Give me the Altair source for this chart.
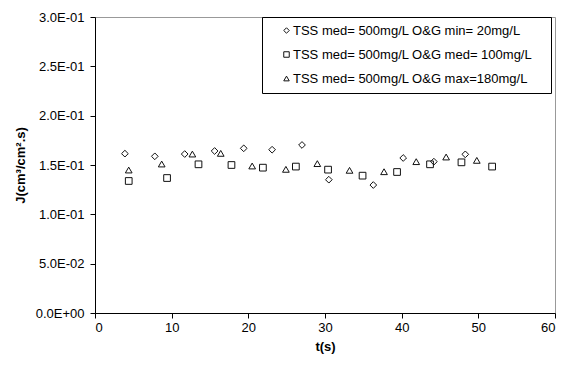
import json
import altair as alt
import pandas as pd

series_names = [
    "TSS med= 500mg/L O&G min= 20mg/L",
    "TSS med= 500mg/L O&G med= 100mg/L",
    "TSS med= 500mg/L O&G max=180mg/L",
]

t_min = [3.9, 7.8, 11.7, 15.6, 19.4, 23.1, 27.0, 30.5, 36.3, 40.2, 44.2, 48.3]
J_min = [0.1615, 0.1588, 0.1611, 0.1642, 0.1669, 0.1655, 0.1703, 0.1351, 0.1297, 0.1571, 0.1534, 0.1608]

t_med = [4.4, 9.4, 13.5, 17.8, 21.9, 26.2, 30.4, 34.9, 39.4, 43.7, 47.8, 51.8]
J_med = [0.1338, 0.1368, 0.1507, 0.1500, 0.1473, 0.1484, 0.1453, 0.1392, 0.1429, 0.1507, 0.1527, 0.1484]

t_max = [4.4, 8.7, 12.7, 16.4, 20.5, 24.9, 29.0, 33.2, 37.7, 41.9, 45.8, 49.8]
J_max = [0.1449, 0.1510, 0.1611, 0.1618, 0.1490, 0.1456, 0.1514, 0.1446, 0.1432, 0.1534, 0.1581, 0.1547]

x_ticks = [0, 10, 20, 30, 40, 50, 60]
y_ticks = [0, 0.05, 0.1, 0.15, 0.2, 0.25, 0.3]
y_tick_labels = ["0.0E+00", "5.0E-02", "1.0E-01", "1.5E-01", "2.0E-01", "2.5E-01", "3.0E-01"]

rows = []
for name, ts, js in zip(series_names, [t_min, t_med, t_max], [J_min, J_med, J_max]):
    for t, j in zip(ts, js):
        rows.append({"series": name, "t": t, "J": j})
df = pd.DataFrame(rows)

FONT = "Liberation Sans"
label_expr = json.dumps(y_tick_labels) + "[round(datum.value*20)]"

chart = alt.Chart(df).mark_point(
    filled=False, size=45, strokeWidth=1, color="#111", opacity=1
).encode(
    x=alt.X("t:Q", scale=alt.Scale(domain=[0, 60], nice=False),
            axis=alt.Axis(values=x_ticks, title="t(s)", grid=False,
                          labelPadding=3, titlePadding=6)),
    y=alt.Y("J:Q", scale=alt.Scale(domain=[0, 0.3], nice=False),
            axis=alt.Axis(values=y_ticks, labelExpr=label_expr,
                          title="J(cm³/cm².s)", grid=False)),
    shape=alt.Shape(
        "series:N",
        scale=alt.Scale(domain=series_names,
                        range=["diamond", "square", "triangle-up"]),
        legend=alt.Legend(
            title="\u00a0", titleOrient="right", titlePadding=12,
            titleFontSize=13,
            orient="none", legendX=167, legendY=0,
            strokeColor="black", padding=7, rowPadding=10,
            symbolOffset=11, symbolSize=30, symbolStrokeColor="#111",
            symbolStrokeWidth=1, symbolFillColor="transparent",
            labelFont=FONT, labelFontSize=13, labelColor="#000",
            labelOffset=0, labelLimit=0,
        ),
    ),
).properties(
    width=460, height=296,
    background="white",
    autosize=alt.AutoSizeParams(type="none"),
    padding={"left": 95, "top": 17, "right": 10, "bottom": 55},
).configure_view(
    stroke="#999", strokeWidth=1
).configure_axis(
    domainColor="#000", tickColor="#000", tickSize=5, labelFont=FONT,
    labelFontSize=13, labelColor="#000", titleFont=FONT, titleFontSize=13,
    titleFontWeight="bold", titleColor="#000", labelPadding=6, titlePadding=8,
)

chart.save("out.html", embed_options={"renderer": "svg", "actions": False})
